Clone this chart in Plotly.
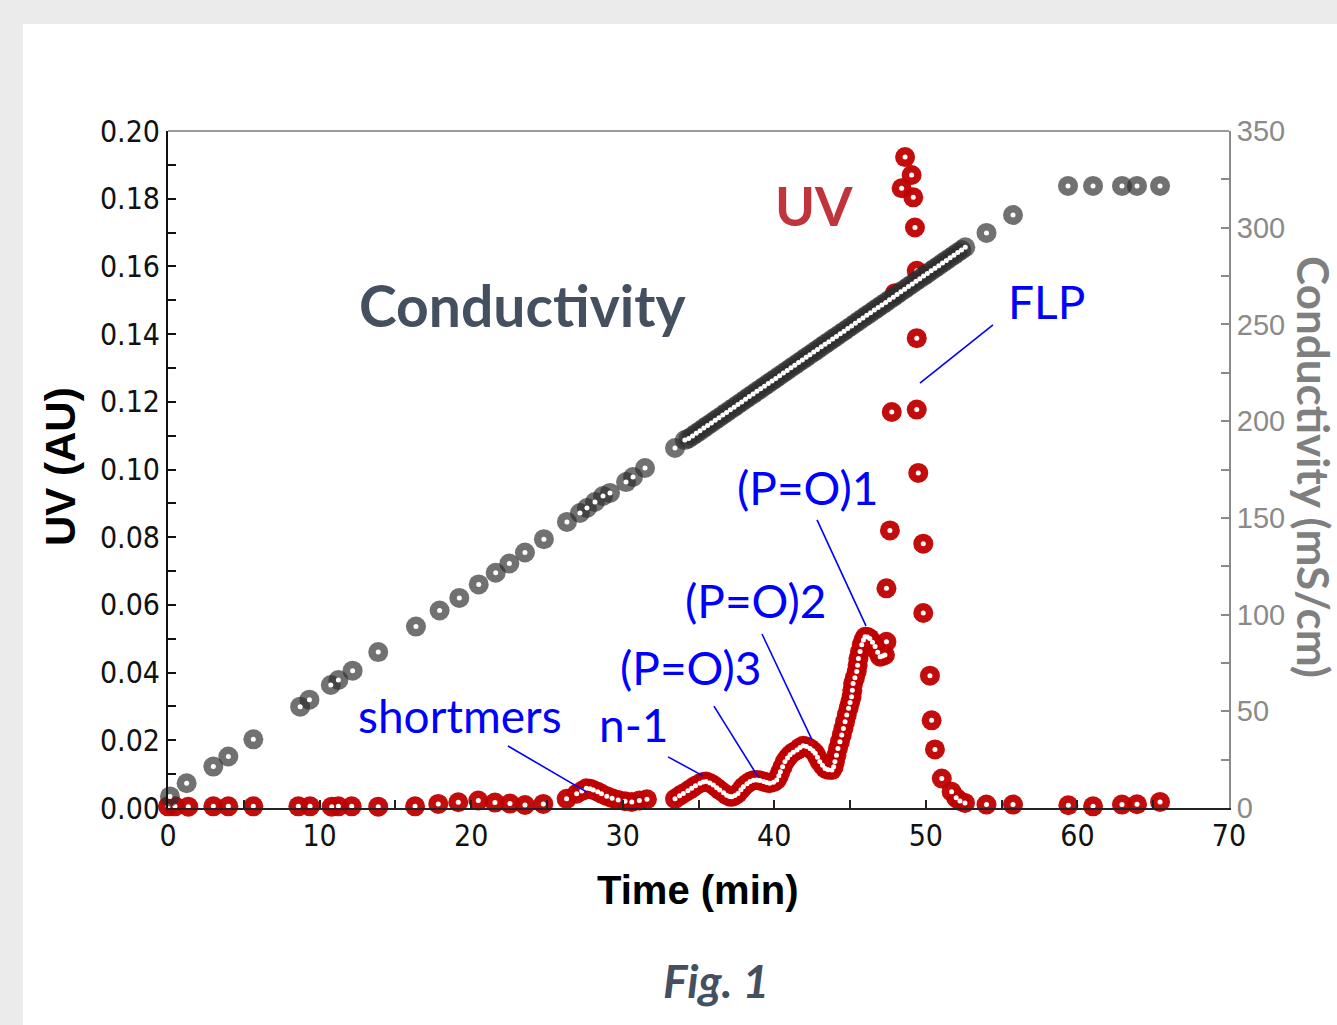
import plotly.graph_objects as go

# UV absorbance trace (time in min, absorbance in AU)
uv_time = [0.0, 0.46, 1.34, 2.99, 3.98, 5.63, 8.60, 9.37, 10.80, 11.24, 12.12, 13.87,
           16.30, 17.83, 19.15, 20.47, 21.57, 22.56, 23.55, 24.76,
           26.30, 26.96, 27.30, 27.60, 27.85, 28.06, 28.35, 28.60, 28.95, 29.30, 29.70,
           30.15, 30.60, 31.10, 31.60,
           33.45, 33.75, 34.00, 34.30, 34.55, 34.80, 35.10, 35.30, 35.50, 35.75, 35.98,
           36.20, 36.40, 36.65, 36.86, 37.05, 37.20, 37.40, 37.60, 37.80, 37.96, 38.20,
           38.40, 38.62, 38.84, 39.05, 39.30, 39.50, 39.70, 39.95, 40.16, 40.30, 40.40,
           40.55, 40.70, 40.87, 41.04, 41.25, 41.50, 41.70, 41.90, 42.12, 42.36, 42.55,
           42.70, 42.85, 43.00, 43.18, 43.35, 43.55, 43.80, 43.92, 44.00, 44.10, 44.20,
           44.33, 44.45, 44.56, 44.67, 44.78, 44.90, 45.00, 45.10, 45.15, 45.20, 45.32,
           45.44, 45.50, 45.55, 45.66, 45.77, 45.88, 45.99, 46.15, 46.30, 46.48, 46.65,
           46.82, 46.98, 47.15, 47.30, 47.40,
           47.40, 47.63, 47.75, 47.96, 48.40, 48.63, 49.06, 49.17, 49.28, 49.40, 49.40,
           49.40, 49.50, 49.83, 49.83, 50.27, 50.38, 50.60, 51.05, 51.70, 52.00, 52.25,
           52.58, 54.00, 55.75, 59.40, 61.03, 62.94, 63.93, 65.45]
uv_au = [0.0005, 0.0005, 0.0004, 0.0005, 0.0005, 0.0005, 0.0005, 0.0005, 0.0004, 0.0005,
         0.0005, 0.0004, 0.0005, 0.0012, 0.0017, 0.0022, 0.0016, 0.0013, 0.0009, 0.0012,
         0.0027, 0.0042, 0.0050, 0.0058, 0.0057, 0.0053, 0.0048, 0.0042, 0.0035, 0.0029,
         0.0024, 0.0020, 0.0018, 0.0022, 0.0026,
         0.0027, 0.0036, 0.0043, 0.0051, 0.0058, 0.0066, 0.0073, 0.0077, 0.0078, 0.0074,
         0.0068, 0.0060, 0.0053, 0.0045, 0.0038, 0.0034, 0.0033, 0.0037, 0.0043, 0.0054,
         0.0063, 0.0072, 0.0078, 0.0082, 0.0083, 0.0081, 0.0078, 0.0075, 0.0073, 0.0076,
         0.0083, 0.0095, 0.0107, 0.0122, 0.0137, 0.0148, 0.0157, 0.0165, 0.0171, 0.0179,
         0.0184, 0.0182, 0.0176, 0.0169, 0.0162, 0.0150, 0.0137, 0.0126, 0.0117, 0.0113,
         0.0112, 0.0122, 0.0137, 0.0156, 0.0176, 0.0196, 0.0216, 0.0235, 0.0255, 0.0275,
         0.0295, 0.0312, 0.0329, 0.0348, 0.0368, 0.0385, 0.0403, 0.0422, 0.0442, 0.0462,
         0.0482, 0.0496, 0.0506, 0.0505, 0.0501, 0.0490, 0.0477, 0.0460, 0.0447, 0.0449,
         0.0452, 0.0491,
         0.0649, 0.0820, 0.1170, 0.1521, 0.1831, 0.1923, 0.1870, 0.1804, 0.1715, 0.1587,
         0.1388, 0.1177, 0.0990, 0.0781, 0.0576, 0.0391, 0.0259, 0.0173, 0.0087, 0.0048,
         0.0030, 0.0021, 0.0015, 0.0010, 0.0010, 0.0008, 0.0005, 0.0010, 0.0011, 0.0018]

# Conductivity trace (time in min, mS/cm)
cond_time = [0.13, 1.23, 2.99, 3.98, 5.63, 8.72, 9.33, 10.74, 11.24, 12.18, 13.87, 16.36,
             17.92, 19.22, 20.50, 21.62, 22.52, 23.55, 24.80, 26.32, 27.18, 27.64, 28.17,
             28.70, 29.16, 30.22, 30.68, 31.47, 33.45, 34.10,
             34.35, 34.60, 34.85, 35.10, 35.35, 35.60, 35.85, 36.10, 36.35, 36.60, 36.85,
             37.10, 37.35, 37.60, 37.85, 38.10, 38.35, 38.60, 38.85, 39.10, 39.35, 39.60,
             39.85, 40.10, 40.35, 40.60, 40.85, 41.10, 41.35, 41.60, 41.85, 42.10, 42.35,
             42.60, 42.85, 43.10, 43.35, 43.60, 43.85, 44.10, 44.35, 44.60, 44.85, 45.10,
             45.35, 45.60, 45.85, 46.10, 46.35, 46.60, 46.85, 47.10, 47.35, 47.60, 47.85,
             48.10, 48.35, 48.60, 48.85, 49.10, 49.35, 49.60, 49.85, 50.10, 50.35, 50.60,
             50.85, 51.10, 51.35, 51.60, 51.85, 52.10, 52.35, 52.60,
             54.00, 55.75, 59.38, 61.03, 62.94, 63.93, 65.45]
cond_ms = [6.0, 12.8, 21.4, 26.6, 35.5, 52.4, 56.0, 63.6, 66.2, 71.0, 80.6, 93.8,
           102.1, 108.6, 115.6, 121.6, 126.4, 132.1, 139.0, 147.9, 152.5, 155.1, 158.2,
           161.3, 162.9, 168.5, 171.1, 175.8, 186.1, 190.2,
           191.0, 192.3, 193.7, 195.0, 196.4, 197.8, 199.1, 200.5, 201.8, 203.2, 204.5,
           205.9, 207.2, 208.6, 209.9, 211.3, 212.7, 214.0, 215.4, 216.7, 218.1, 219.4,
           220.8, 222.1, 223.5, 224.9, 226.2, 227.6, 228.9, 230.3, 231.6, 233.0, 234.3,
           235.7, 237.0, 238.4, 239.8, 241.1, 242.5, 243.8, 245.2, 246.5, 247.9, 249.2,
           250.6, 252.0, 253.3, 254.7, 256.0, 257.4, 258.7, 260.1, 261.4, 262.8, 264.1,
           265.5, 266.9, 268.2, 269.6, 270.9, 272.3, 273.6, 275.0, 276.3, 277.7, 279.1,
           280.4, 281.8, 283.1, 284.5, 285.8, 287.2, 288.5, 289.9,
           297.3, 306.6, 321.6, 321.6, 321.6, 321.6, 321.6]

# Peak labels with leader lines: (text, label x, label y, line x0, y0, x1, y1)
peak_labels = [
    ("shortmers", 19.27, 0.0272, 22.43, 0.0183, 27.64, 0.0047),
    ("n-1", 30.74, 0.0248, 32.99, 0.0151, 35.30, 0.0095),
    ("(P=O)3", 34.50, 0.0414, 36.02, 0.0301, 38.93, 0.0092),
    ("(P=O)2", 38.79, 0.0612, 39.19, 0.0514, 42.49, 0.0201),
    ("(P=O)1", 42.22, 0.0948, 42.82, 0.0851, 46.05, 0.0538),
    ("FLP", 57.93, 0.1495, 54.43, 0.1427, 49.61, 0.1255),
]

W, H = 1337, 1025
L, R, T, B = 168, 108, 131, 217
PW, PH = W - L - R, H - T - B


def px_x(px):
    return (px - L) / PW


def px_y(py):
    return (H - B - py) / PH


TICK_FONT = "DejaVu Sans Condensed, Liberation Sans Narrow, Arial Narrow, sans-serif"
TITLE_FONT = "Liberation Sans, Arial, sans-serif"
LABEL_FONT = "Lato, Open Sans, sans-serif"

RING_OUTER = 20
RING_HOLE = 5

fig = go.Figure()


def add_ring_series(x, y, color, name, axis="y"):
    # each point is a filled disc with a small white hole punched on top
    fig.add_trace(go.Scatter(
        x=x, y=y, mode="markers", name=name, yaxis=axis, cliponaxis=False,
        marker=dict(symbol="circle", size=RING_OUTER, sizemode="diameter", sizeref=1,
                    color=color, line=dict(width=0)),
        showlegend=False, hoverinfo="x+y",
    ))
    fig.add_trace(go.Scatter(
        x=x, y=y, mode="markers", name=name, yaxis=axis, cliponaxis=False,
        marker=dict(symbol="circle", size=RING_HOLE, color="white", line=dict(width=0)),
        showlegend=False, hoverinfo="skip",
    ))


add_ring_series(uv_time, uv_au, "rgba(192,0,0,0.95)", "UV")
add_ring_series(cond_time, cond_ms, "rgba(45,45,45,0.68)", "Conductivity", axis="y2")

shapes = [
    # white card behind the chart
    dict(type="rect", xref="paper", yref="paper", layer="below",
         x0=px_x(23), x1=px_x(W + 5), y0=px_y(H + 5), y1=px_y(24),
         fillcolor="white", line=dict(width=0)),
    # top frame line
    dict(type="line", xref="paper", yref="paper", x0=0, x1=1, y0=1, y1=1,
         line=dict(color="#7a7a7a", width=1.5)),
]
annotations = []
for text, lx, ly, x0, y0, x1, y1 in peak_labels:
    shapes.append(dict(type="line", xref="x", yref="y", x0=x0, y0=y0, x1=x1, y1=y1,
                       line=dict(color="#0000ff", width=1.6)))
    annotations.append(dict(x=lx, y=ly, xref="x", yref="y", text=text, showarrow=False,
                            xanchor="center", yanchor="middle",
                            font=dict(family=LABEL_FONT, size=46, color="#0000ff")))


def note(x, y, text, font, angle=0, ref="paper"):
    return dict(x=x, y=y, xref=ref, yref=ref if ref == "paper" else "y", text=text,
                showarrow=False, xanchor="center", yanchor="middle", textangle=angle,
                font=font)


annotations += [
    note(23.36, 0.1486, "<b>Conductivity</b>",
         dict(family=LABEL_FONT, size=57, color="#44505f"), ref="x"),
    note(42.62, 0.1781, "<b>UV</b>",
         dict(family=LABEL_FONT, size=54, color="#c0343c"), ref="x"),
    note(px_x(698), px_y(890), "<b>Time (min)</b>",
         dict(family=TITLE_FONT, size=40, color="black")),
    note(px_x(60), px_y(467), "<b>UV (AU)</b>",
         dict(family=TITLE_FONT, size=42, color="black"), angle=-90),
    note(px_x(1314), px_y(467), "<b>Conductivity (mS/cm)</b>",
         dict(family=LABEL_FONT, size=44, color="#7f7f7f"), angle=90),
    note(px_x(716), px_y(980), "<b><i>Fig. 1</i></b>",
         dict(family=LABEL_FONT, size=46, color="#44505f")),
]

fig.update_layout(
    width=W, height=H,
    margin=dict(l=L, r=R, t=T, b=B, pad=0),
    paper_bgcolor="#ebebeb", plot_bgcolor="white",
    shapes=shapes, annotations=annotations,
    xaxis=dict(range=[0, 70], dtick=10, tick0=0, ticks="inside", ticklen=8, tickwidth=1.5,
               tickcolor="#222", showline=True, linecolor="#222", linewidth=2,
               showgrid=False, zeroline=False,
               minor=dict(dtick=5, ticks="inside", ticklen=8, tickwidth=1.5, tickcolor="#222"),
               tickfont=dict(family=TICK_FONT, size=30, color="#111")),
    yaxis=dict(range=[0, 0.2], dtick=0.02, tick0=0, tickformat=".2f", ticks="inside",
               ticklen=8, tickwidth=1.5, tickcolor="#111", showline=True, linecolor="#111",
               linewidth=2, showgrid=False, zeroline=False,
               minor=dict(dtick=0.01, ticks="inside", ticklen=8, tickwidth=1.5,
                          tickcolor="#111"),
               tickfont=dict(family=TICK_FONT, size=30, color="#111")),
    yaxis2=dict(range=[0, 350], dtick=50, tick0=0, overlaying="y", side="right",
                ticks="inside", ticklen=8, tickwidth=1.5, tickcolor="#8a8a8a",
                showline=True, linecolor="#8a8a8a", linewidth=2, showgrid=False,
                zeroline=False,
                minor=dict(dtick=25, ticks="inside", ticklen=8, tickwidth=1.5,
                           tickcolor="#8a8a8a"),
                tickfont=dict(family=TITLE_FONT, size=29, color="#8a8a8a")),
)

fig.write_html("out.html")
